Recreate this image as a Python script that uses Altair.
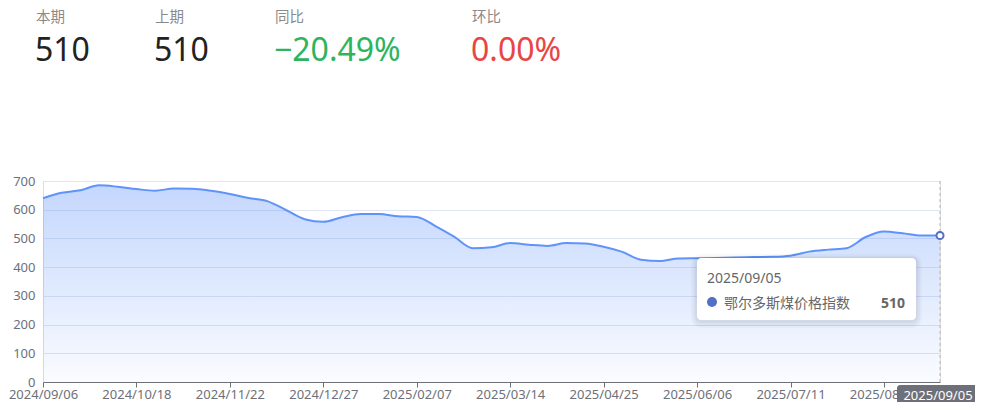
import altair as alt
import pandas as pd

# ---- data ----
dates = [
    "2024/09/06", "2024/09/13", "2024/09/20", "2024/09/27", "2024/10/11", "2024/10/18",
    "2024/10/25", "2024/11/01", "2024/11/08", "2024/11/15", "2024/11/22", "2024/11/29",
    "2024/12/06", "2024/12/13", "2024/12/20", "2024/12/27", "2025/01/03", "2025/01/10",
    "2025/01/17", "2025/01/24", "2025/02/07", "2025/02/14", "2025/02/21", "2025/02/28",
    "2025/03/07", "2025/03/14", "2025/03/21", "2025/03/28", "2025/04/11", "2025/04/18",
    "2025/04/25", "2025/05/09", "2025/05/16", "2025/05/23", "2025/05/30", "2025/06/06",
    "2025/06/13", "2025/06/20", "2025/06/27", "2025/07/04", "2025/07/11", "2025/07/18",
    "2025/07/25", "2025/08/01", "2025/08/08", "2025/08/15", "2025/08/22", "2025/08/29",
    "2025/09/05",
]
values = [
    640, 659, 668, 685, 680, 672, 666, 674, 673, 666, 655, 641, 630, 599, 567, 558,
    574, 585, 585, 577, 575, 543, 506, 466, 469, 484, 478, 474, 484, 482, 471, 453,
    426, 421, 430, 431, 432, 434, 435, 436, 440, 454, 461, 466, 504, 524, 518, 510, 510,
]
series_name = "鄂尔多斯煤价格指数"
header_labels = ["本期", "上期", "同比", "环比"]
header_values = ["510", "510", "−20.49%", "0.00%"]
header_colors = ["#222222", "#222222", "#2db45d", "#e84545"]
y_ticks = [0, 100, 200, 300, 400, 500, 600, 700]
x_label_dates = [dates[i] for i in range(0, len(dates), 5)]

df = pd.DataFrame({"date": dates, "value": values})
last = df.tail(1)

FONT = "Noto Sans, Noto Sans CJK SC, sans-serif"
W, H = 897, 201

xenc = alt.X(
    "date:O",
    scale=alt.Scale(type="point", padding=0, domain=dates),
    axis=alt.Axis(
        values=x_label_dates, labelAngle=0, title=None, grid=False,
        domainColor="#6e7079", tickColor="#6e7079", tickSize=5,
        labelColor="#6e7079", labelFontSize=13, labelPadding=1,
        labelOverlap=False, labelFont=FONT,
    ),
)
yenc = alt.Y(
    "value:Q",
    scale=alt.Scale(domain=[0, 700]),
    axis=alt.Axis(
        values=y_ticks, title=None, grid=True, gridColor="#e0e6f1",
        domain=False, ticks=False, labelColor="#6e7079", labelFontSize=13,
        labelPadding=8, labelFont=FONT,
    ),
)

base = alt.Chart(df)
area = base.mark_area(
    interpolate="monotone",
    color=alt.Gradient(
        gradient="linear",
        stops=[
            alt.GradientStop(color="rgba(91,143,249,0.36)", offset=0),
            alt.GradientStop(color="rgba(91,143,249,0.03)", offset=1),
        ],
        x1=1, x2=1, y1=0, y2=1,
    ),
).encode(x=xenc, y=yenc)
line = base.mark_line(interpolate="monotone", color="#5f93fb", strokeWidth=2).encode(x=xenc, y=yenc)

pointer = alt.Chart(last).mark_rule(color="#b6b6b6", strokeDash=[3, 3], strokeWidth=1).encode(
    x=alt.X("date:O", scale=alt.Scale(type="point", padding=0, domain=dates)),
    y=alt.value(0), y2=alt.value(H),
)
endpt = alt.Chart(last).mark_point(
    filled=True, fill="white", stroke="#5470c6", strokeWidth=2, size=50, opacity=1
).encode(x=xenc, y=yenc)


def one():
    return alt.Chart(alt.Data(values=[{}]))


def txt(text, x, y, size, color, weight="normal", align="left"):
    return one().mark_text(
        text=text, font=FONT, fontSize=size, color=color, fontWeight=weight,
        align=align, baseline="alphabetic",
    ).encode(x=alt.value(x), y=alt.value(y))


def box(x1, x2, y1, y2, fill, opacity=1, r=4):
    return one().mark_rect(fill=fill, opacity=opacity, cornerRadius=r).encode(
        x=alt.value(x1), x2=alt.value(x2), y=alt.value(y1), y2=alt.value(y2)
    )


# header
header_x = [-7, 112, 232, 429]
header = []
for lab, val, col, hx in zip(header_labels, header_values, header_colors, header_x):
    header.append(txt(lab, hx, -159, 14.5, "#8a8a8a"))
    header.append(txt(val, hx - 1, -120, 32, col))

# tooltip box (with soft shadow)
tx1, tx2, ty1, ty2 = 654, 873, 77, 139
tooltip = [
    box(tx1 - 6, tx2 + 6, ty1 - 4, ty2 + 8, "#000000", 0.025, 10),
    box(tx1 - 4, tx2 + 4, ty1 - 2, ty2 + 6, "#000000", 0.03, 8),
    box(tx1 - 2, tx2 + 2, ty1 - 1, ty2 + 3, "#000000", 0.04, 6),
    box(tx1, tx2, ty1, ty2, "#ffffff", 1, 4),
    txt(dates[-1], 664, 102, 14, "#666666"),
    one().mark_circle(color="#5470c6", size=100, opacity=1).encode(x=alt.value(669), y=alt.value(121)),
    txt(series_name, 681, 127, 14, "#666666"),
    txt(str(values[-1]), 862, 127, 14, "#666666", weight="bold", align="right"),
]

# axis pointer label
ptr_label = [
    box(854, 936, 204, 227, "#6e7079", 1, 3),
    txt(dates[-1], 895, 218.5, 13, "#ffffff", align="center"),
]

chart = alt.layer(
    area, line, pointer, endpt, *header, *tooltip, *ptr_label
).properties(
    width=W, height=H,
    autosize=alt.AutoSizeParams(type="none"),
    padding={"left": 35, "top": 173, "right": 35, "bottom": 20},
).configure_view(stroke=None).configure(background="white")

chart.save("out.html", embed_options={"renderer": "svg", "actions": False})
